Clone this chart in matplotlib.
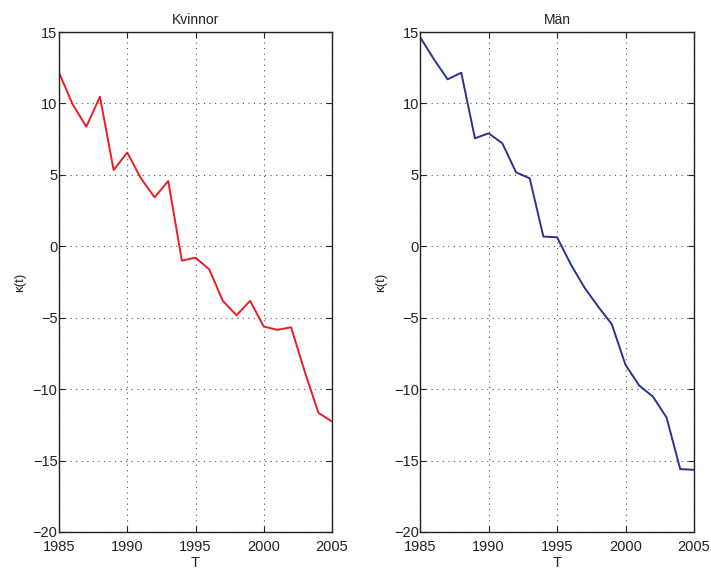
import matplotlib
matplotlib.use('Agg')
import matplotlib.pyplot as plt

plt.rcParams['font.family'] = ['Liberation Sans', 'DejaVu Sans']

years = list(range(1985, 2006))
kvinnor = [12.15, 9.94, 8.37, 10.47, 5.34, 6.56, 4.76, 3.43, 4.57, -1.0, -0.8,
           -1.61, -3.82, -4.83, -3.82, -5.62, -5.85, -5.67, -8.77, -11.66, -12.27]
man = [14.63, 13.1, 11.69, 12.15, 7.56, 7.91, 7.21, 5.18, 4.76, 0.68, 0.63,
       -1.26, -2.89, -4.22, -5.46, -8.3, -9.75, -10.52, -11.99, -15.6, -15.65]
xticks = [1985, 1990, 1995, 2000, 2005]
yticks = [-20, -15, -10, -5, 0, 5, 10, 15]

fig = plt.figure(figsize=(7.11, 5.72), dpi=100)
ax1 = fig.add_axes([0.083, 0.070, 0.384, 0.874])
ax2 = fig.add_axes([0.591, 0.070, 0.385, 0.874])

for ax, data, color, title in [(ax1, kvinnor, '#ec1c24', 'Kvinnor'),
                               (ax2, man, '#2e3192', 'Män')]:
    ax.plot(years, data, color=color, lw=1.4)
    ax.set_xlim(1985, 2005)
    ax.set_ylim(-20, 15)
    ax.set_xticks(xticks)
    ax.set_yticks(yticks)
    ax.set_yticklabels([str(v).replace('-', '\u2212') for v in yticks])
    ax.grid(True, linestyle=(0, (1, 4)), color='#555555', lw=0.8)
    ax.tick_params(direction='in', top=True, right=True, labelsize=10.5,
                   length=4, colors='#222222')
    ax.tick_params(axis='y', pad=1)
    ax.tick_params(axis='x', pad=6)
    ax.set_title(title, fontsize=10, pad=6, color='#222222')
    ax.set_xlabel('T', fontsize=10.5, labelpad=1, color='#222222')
    ax.set_ylabel('κ(t)', fontsize=9.5, labelpad=5, color='#222222')
    for s in ax.spines.values():
        s.set_linewidth(1.0)
        s.set_color('#222222')

fig.savefig('out.png', dpi=100)
